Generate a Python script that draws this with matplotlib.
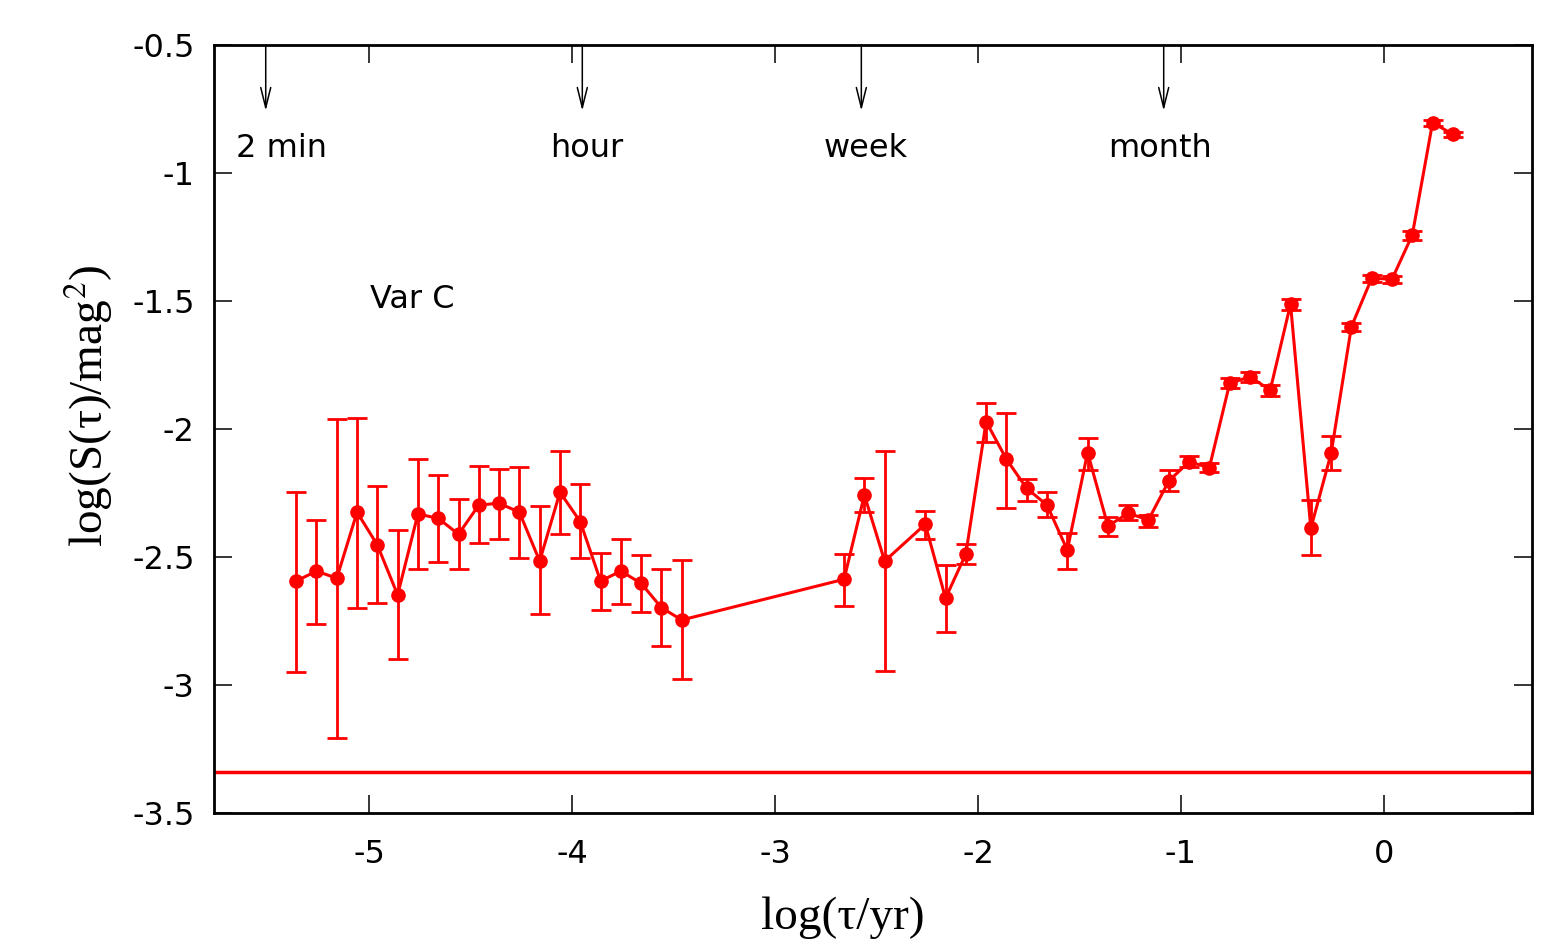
import matplotlib
matplotlib.use("Agg")
import matplotlib.pyplot as plt
from matplotlib.ticker import FuncFormatter

plt.rcParams.update({"font.family": "DejaVu Sans", "axes.unicode_minus": False,
                     "mathtext.fontset": "stix"})

# structure function, Var C
log_tau = [-5.36, -5.26, -5.16, -5.06, -4.96, -4.86, -4.76, -4.66, -4.56, -4.46,
           -4.36, -4.26, -4.16, -4.06, -3.96, -3.86, -3.76, -3.66, -3.56, -3.46,
           -2.66, -2.56, -2.46, -2.26, -2.16, -2.06, -1.96, -1.86, -1.76, -1.66,
           -1.56, -1.46, -1.36, -1.26, -1.16, -1.06, -0.96, -0.86, -0.76, -0.66,
           -0.56, -0.46, -0.36, -0.26, -0.16, -0.06, 0.04, 0.14, 0.24, 0.34]
log_s = [-2.594, -2.555, -2.583, -2.325, -2.453, -2.648, -2.332, -2.349, -2.411, -2.297,
         -2.290, -2.325, -2.516, -2.247, -2.362, -2.594, -2.555, -2.603, -2.698, -2.746,
         -2.587, -2.258, -2.516, -2.372, -2.661, -2.488, -1.971, -2.118, -2.232, -2.297,
         -2.473, -2.092, -2.379, -2.329, -2.355, -2.203, -2.128, -2.151, -1.822, -1.796,
         -1.848, -1.512, -2.388, -2.095, -1.600, -1.411, -1.415, -1.242, -0.803, -0.849]
err_hi = [-2.247, -2.357, -1.961, -1.956, -2.223, -2.393, -2.118, -2.180, -2.273, -2.143,
          -2.156, -2.150, -2.301, -2.085, -2.216, -2.483, -2.430, -2.492, -2.548, -2.513,
          -2.490, -2.193, -2.087, -2.319, -2.531, -2.449, -1.900, -1.936, -2.195, -2.247,
          -2.405, -2.036, -2.342, -2.297, -2.336, -2.160, -2.105, -2.134, -1.802, -1.776,
          -1.828, -1.492, -2.277, -2.027, -1.585, -1.398, -1.402, -1.225, -0.791, -0.838]
err_lo = [-2.948, -2.763, -3.208, -2.698, -2.678, -2.897, -2.546, -2.520, -2.546, -2.447,
          -2.430, -2.503, -2.723, -2.410, -2.503, -2.707, -2.685, -2.716, -2.849, -2.977,
          -2.690, -2.325, -2.945, -2.428, -2.793, -2.526, -2.050, -2.307, -2.280, -2.342,
          -2.546, -2.160, -2.417, -2.355, -2.382, -2.241, -2.147, -2.169, -1.841, -1.816,
          -1.871, -1.535, -2.492, -2.160, -1.616, -1.424, -1.428, -1.262, -0.815, -0.860]
noise_level = -3.34

marks = ["2 min", "hour", "week", "month"]
mark_x = [-5.51, -3.95, -2.575, -1.085]
label_x = [-5.43, -3.93, -2.555, -1.105]

fig = plt.figure(figsize=(15.45, 9.46), dpi=100)
ax = fig.add_axes([0.1385, 0.1406, 0.8531, 0.8118])

yerr = [[s - lo for s, lo in zip(log_s, err_lo)],
        [hi - s for s, hi in zip(log_s, err_hi)]]
ax.errorbar(log_tau, log_s, yerr=yerr, color="#ff0000", marker="o", markersize=9.5,
            linewidth=2.2, elinewidth=2.0, capsize=7, capthick=2.0)
ax.axhline(noise_level, color="#ff0000", linewidth=2.5)

for name, xa, xl in zip(marks, mark_x, label_x):
    ax.annotate("", xy=(xa, -0.757), xytext=(xa, -0.5),
                arrowprops=dict(arrowstyle="->,head_length=1.45,head_width=0.36",
                                color="black", lw=1.1, shrinkA=0, shrinkB=0))
    ax.text(xl, -0.905, name, ha="center", va="center", fontsize=23)

ax.text(-4.79, -1.496, "Var C", ha="center", va="center", fontsize=23)

ax.set_xlim(-5.765, 0.73)
ax.set_ylim(-3.5, -0.5)
ax.set_xticks([-5, -4, -3, -2, -1, 0])
ax.set_yticks([-3.5, -3, -2.5, -2, -1.5, -1, -0.5])
fmt = FuncFormatter(lambda v, p: "%g" % v)
ax.xaxis.set_major_formatter(fmt)
ax.yaxis.set_major_formatter(fmt)
ax.tick_params(direction="in", length=13, width=1.1, top=True, right=True,
               labelsize=23)
ax.tick_params(axis="x", pad=19)
ax.tick_params(axis="y", pad=14)
for sp in ax.spines.values():
    sp.set_linewidth(2)

ax.set_xlabel("log(τ/yr)", fontsize=34, family="Liberation Serif", labelpad=19)
ax.set_ylabel("log(S(τ)/mag$^2$)", fontsize=34, family="Liberation Serif",
              labelpad=12)
# labels in the original sit slightly off-centre
ax.xaxis.label.set_x(0.477)
ax.yaxis.label.set_y(0.53)

fig.savefig("out.png", dpi=100)
